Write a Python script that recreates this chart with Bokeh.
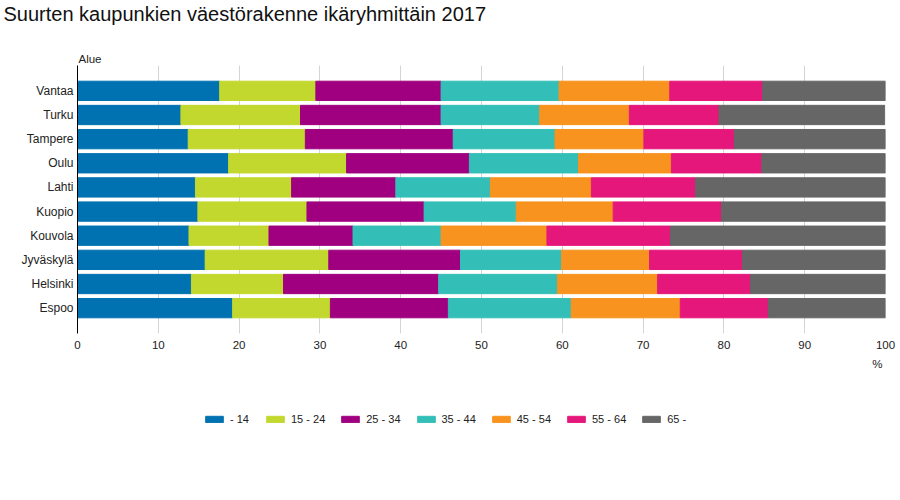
from bokeh.plotting import figure
from bokeh.layouts import column
from bokeh.models import (ColumnDataSource, Range1d, FactorRange, Legend, LegendItem, Title,
                          LinearAxis, FixedTicker)
from bokeh.embed import file_html
from bokeh.resources import INLINE

title_text = "Suurten kaupunkien väestörakenne ikäryhmittäin 2017"
cities = ["Vantaa", "Turku", "Tampere", "Oulu", "Lahti", "Kuopio", "Kouvola", "Jyväskylä", "Helsinki", "Espoo"]
groups = ["- 14", "15 - 24", "25 - 34", "35 - 44", "45 - 54", "55 - 64", "65 -"]

age_0_14  = [17.6, 12.8, 13.7, 18.7, 14.6, 14.9, 13.8, 15.8, 14.1, 19.2]
age_15_24 = [11.9, 14.8, 14.5, 14.6, 11.9, 13.5,  9.9, 15.3, 11.4, 12.1]
age_25_34 = [15.5, 17.4, 18.3, 15.2, 12.9, 14.5, 10.4, 16.3, 19.2, 14.6]
age_35_44 = [14.6, 12.2, 12.6, 13.5, 11.7, 11.4, 10.9, 12.5, 14.7, 15.2]
age_45_54 = [13.7, 11.1, 11.0, 11.5, 12.5, 12.0, 13.1, 10.9, 12.4, 13.5]
age_55_64 = [11.5, 11.1, 11.2, 11.2, 12.9, 13.4, 15.3, 11.5, 11.5, 10.9]
age_65    = [15.2, 20.5, 18.8, 15.3, 23.5, 20.4, 26.6, 17.7, 16.7, 14.5]

x_ticks = [0, 10, 20, 30, 40, 50, 60, 70, 80, 90, 100]
unit_tick = [99]
unit_text = "%"
colors = ["#0072b1", "#c2d82e", "#a0007f", "#33bfb7", "#f7931e", "#e5177b", "#666666"]

keys = ["g0", "g1", "g2", "g3", "g4", "g5", "g6"]
source = ColumnDataSource(dict(city=cities, g0=age_0_14, g1=age_15_24, g2=age_25_34,
                               g3=age_35_44, g4=age_45_54, g5=age_55_64, g6=age_65))

W, H = 896, 372
p = figure(width=W, height=H, output_backend="svg", toolbar_location=None, title=None,
           y_range=FactorRange(factors=list(reversed(cities)), range_padding=0.55,
                               range_padding_units="absolute"),
           x_range=Range1d(0, 100),
           min_border_left=77, min_border_right=W - 885, min_border_top=0, min_border_bottom=0)
p.outline_line_color = None
p.background_fill_color = "white"
p.border_fill_color = "white"

renderers = p.hbar_stack(keys, y="city", height=0.8, color=colors, source=source)

p.xaxis.ticker = x_ticks
p.xaxis.axis_line_color = None
p.xaxis.major_tick_line_color = None
p.xaxis.minor_tick_line_color = None
p.xaxis.major_label_text_font = "Liberation Sans"
p.xaxis.major_label_text_font_size = "11.5px"
p.xaxis.major_label_text_color = "#222222"
p.xaxis.major_label_standoff = 1

unit_axis = LinearAxis(ticker=FixedTicker(ticks=unit_tick),
                       major_label_overrides={unit_tick[0]: unit_text},
                       axis_line_color=None, major_tick_line_color=None,
                       minor_tick_line_color=None, major_label_standoff=0,
                       major_label_text_font="Liberation Sans",
                       major_label_text_font_size="11.5px",
                       major_label_text_color="#222222")
p.add_layout(unit_axis, "below")

p.yaxis.axis_line_color = "black"
p.yaxis.major_tick_line_color = None
p.yaxis.minor_tick_line_color = None
p.yaxis.major_tick_out = 0
p.yaxis.major_tick_in = 0
p.yaxis.major_label_text_font = "Liberation Sans"
p.yaxis.major_label_text_font_size = "12px"
p.yaxis.major_label_text_color = "#222222"
p.yaxis.major_label_standoff = 4

p.ygrid.grid_line_color = None
p.xgrid.grid_line_color = "#d4d4d4"
p.xgrid.grid_line_width = 1

# Above: "Alue" next to the frame, a spacer, then the main title outermost
p.add_layout(Title(text="Alue", align="left", offset=1, standoff=1,
                   text_font="Liberation Sans", text_font_size="11.5px",
                   text_font_style="normal", text_color="#222222"), "above")
p.add_layout(Title(text=" ", align="left", standoff=22, text_font_size="1px"), "above")
p.add_layout(Title(text=title_text, align="left", offset=-74, standoff=1,
                   text_font="Liberation Sans", text_font_size="20px",
                   text_font_style="normal", text_color="#111111"), "above")

# Legend strip: a second figure whose (hidden) bars only feed the legend
H2 = 60
p2 = figure(width=W, height=H2, output_backend="svg", toolbar_location=None, title=None,
            x_axis_type=None, y_axis_type=None,
            y_range=FactorRange(factors=cities), x_range=Range1d(0, 100),
            min_border_left=0, min_border_right=0, min_border_top=0, min_border_bottom=0)
p2.outline_line_color = None
p2.xgrid.grid_line_color = None
p2.ygrid.grid_line_color = None
leg_renderers = p2.hbar_stack(keys, y="city", height=0.8, color=colors, source=source)
for r in leg_renderers:
    r.visible = False

legend = Legend(items=[LegendItem(label=g, renderers=[r]) for g, r in zip(groups, leg_renderers)],
                orientation="horizontal", location=(126, 7.5),
                glyph_width=22, glyph_height=8, label_standoff=5, spacing=14,
                padding=0, margin=0, border_line_color=None, background_fill_alpha=0,
                label_text_font="Liberation Sans", label_text_font_size="11px",
                label_text_color="#222222", label_height=8)
p2.add_layout(legend, "center")

layout = column(p, p2, spacing=0)
open("out.html", "w").write(file_html(layout, INLINE))
